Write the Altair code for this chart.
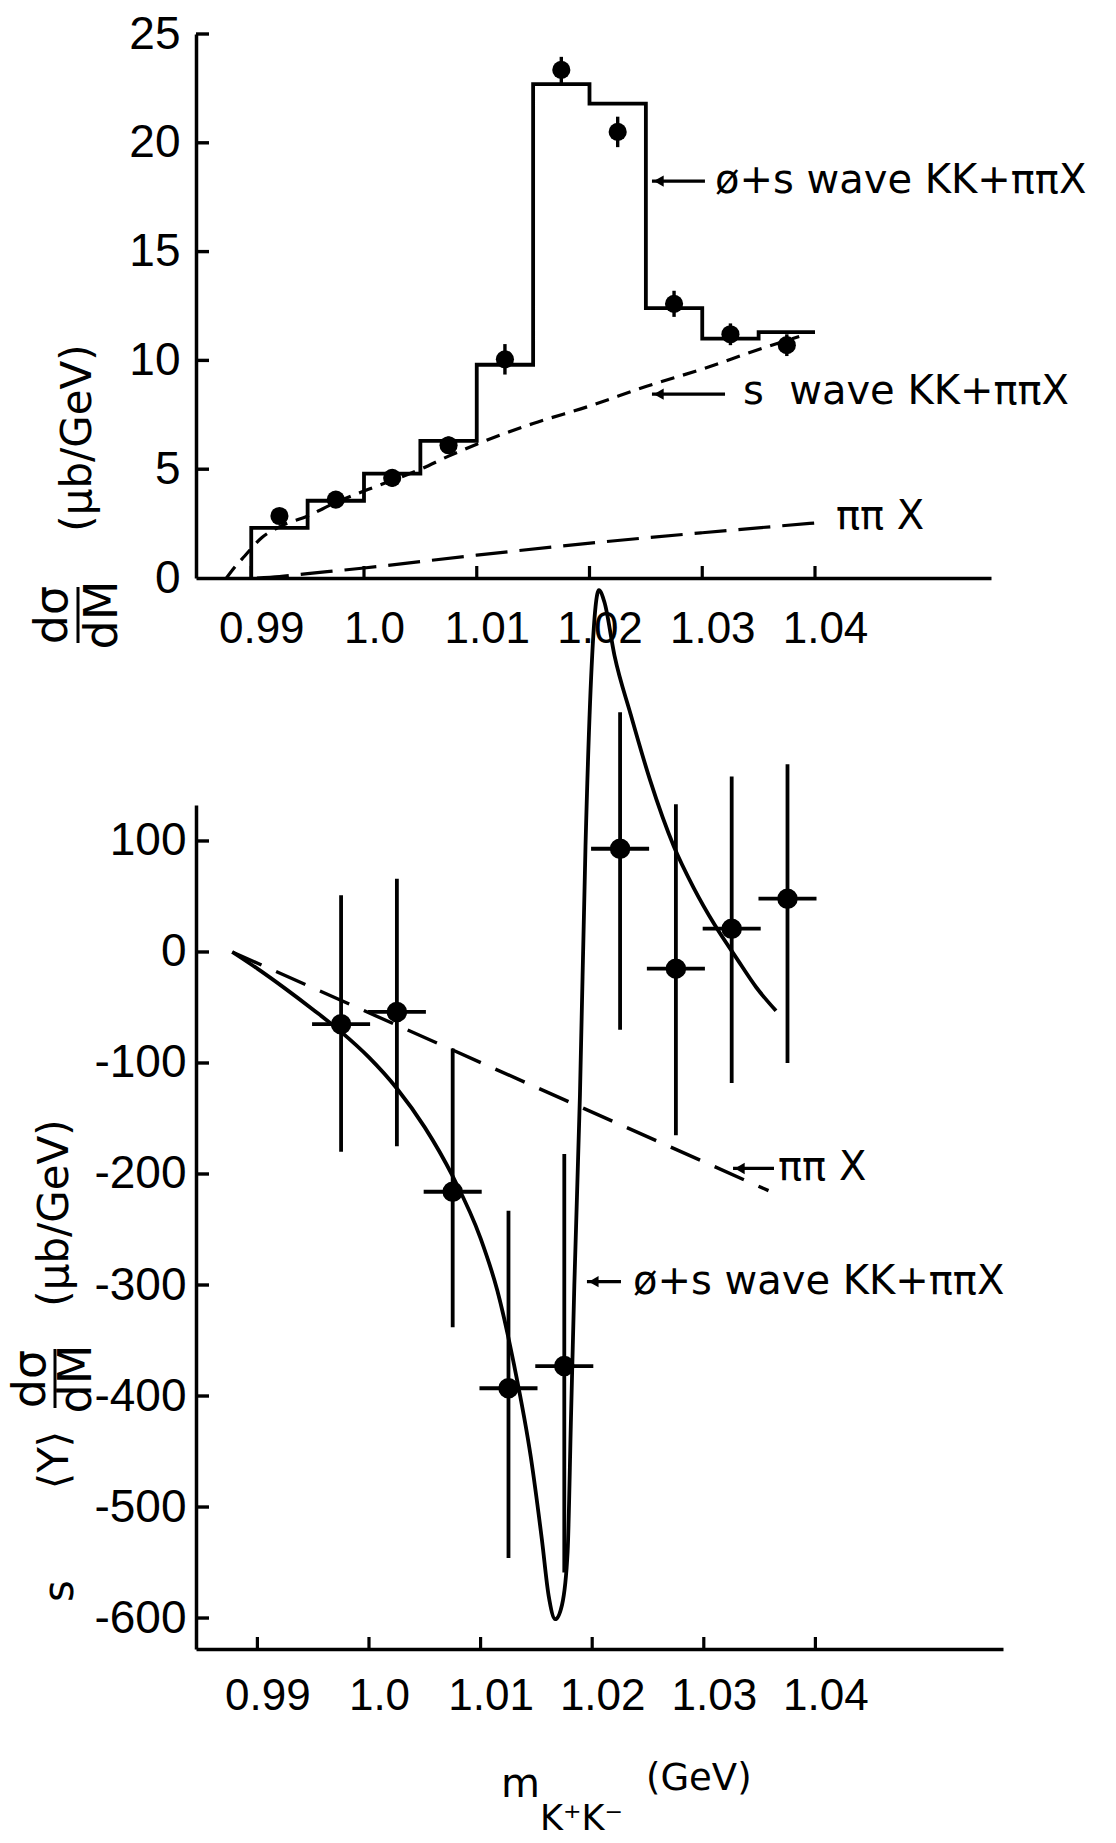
import altair as alt
import pandas as pd

# ---------------- upper panel data ----------------
hist_edges = [0.99, 0.995, 1.0, 1.005, 1.01, 1.015, 1.02, 1.025, 1.03, 1.035, 1.04]
hist_values = [2.3, 3.55, 4.8, 6.3, 9.8, 22.7, 21.8, 12.4, 11.0, 11.3]

top_mass = [0.9925, 0.9975, 1.0025, 1.0075, 1.0125, 1.0175, 1.0225, 1.0275, 1.0325, 1.0375]
top_xsec = [2.85, 3.6, 4.6, 6.1, 10.05, 23.35, 20.5, 12.6, 11.2, 10.7]
top_err = [0.3, 0.35, 0.4, 0.4, 0.7, 0.6, 0.7, 0.6, 0.5, 0.5]

swave_mass = [0.9878, 0.9887, 0.9894, 0.9909, 0.9925, 0.995, 0.9975, 1.0, 1.0026, 1.005,
              1.0075, 1.01, 1.015, 1.02, 1.025, 1.03, 1.035, 1.0386]
swave_xsec = [0.0, 0.6, 1.0, 1.84, 2.35, 2.85, 3.47, 4.0, 4.5, 5.0,
              5.6, 6.15, 7.1, 7.9, 8.8, 9.6, 10.5, 11.1]

pipi_top_mass = [0.9905, 0.9925, 0.995, 1.0, 1.01, 1.021, 1.03, 1.0405]
pipi_top_xsec = [0.0, 0.07, 0.2, 0.46, 1.05, 1.65, 2.08, 2.55]

top_y_ticks = [0, 5, 10, 15, 20, 25]
x_ticks = [0.99, 1.0, 1.01, 1.02, 1.03, 1.04]

top_labels = ["ø+s wave KK+ππX", "s\u00a0 wave KK+ππX", "ππ X"]
top_label_mass = [1.03113, 1.03361, 1.04186]
top_label_val = [18.24, 8.55, 2.8]
top_arrow_tip = [1.02554, 1.02554]
top_arrow_tail = [1.03024, 1.03202]
top_arrow_val = [18.24, 8.45]

# ---------------- lower panel data ----------------
bot_mass = [0.9975, 1.0025, 1.0075, 1.0125, 1.0175, 1.0225, 1.0275, 1.0325, 1.0375]
bot_val = [-65, -54, -216, -393, -373, 93, -15, 21, 48]
bot_hi = [51, 66, -87, -233, -182, 216, 133, 158, 169]
bot_lo = [-180, -175, -338, -546, -559, -70, -165, -118, -100]
bot_halfwidth = 0.0026

fit_mass = [0.98775, 0.9900, 0.9925, 0.9950, 0.9975, 1.0000, 1.0025, 1.0050, 1.0075,
            1.0100, 1.0115, 1.0130, 1.0145, 1.0155, 1.0161, 1.0167, 1.0173, 1.0178,
            1.0181, 1.0184, 1.0189, 1.0194, 1.0200, 1.0206, 1.0211, 1.0220, 1.02345,
            1.02518, 1.02732, 1.02908, 1.0310, 1.03296, 1.03471, 1.03647]
fit_val = [0, -15, -33, -52, -72, -95, -123, -158, -202,
           -258, -305, -372, -455, -530, -580, -601, -588, -540,
           -420, -300, -130, 95, 267, 326, 315, 267, 214,
           155, 95, 58, 24, -6, -32, -53]

pipi_bot_mass = [0.98775, 1.0358]
pipi_bot_val = [0, -215]

bot_y_ticks = [100, 0, -100, -200, -300, -400, -500, -600]

bot_labels = ["ππ X", "ø+s wave KK+ππX"]
bot_label_mass = [1.03665, 1.02366]
bot_label_val = [-195, -297]
bot_arrow_tip = [1.03262, 1.01953]
bot_arrow_tail = [1.03629, 1.02258]
bot_arrow_val = [-195, -297]

# ---------------- styling ----------------
FONT_NUM = "Liberation Sans"
FONT_TXT = "DejaVu Sans"
BLACK = "black"
TOP_W, TOP_H = 795, 544
BOT_W, BOT_H = 807, 844
HEAD_OFFSET = 0.0006
LW = 3.8

xs_top = alt.Scale(domain=[0.98510, 1.05561], nice=False, zero=False)
ys_top = alt.Scale(domain=[0, 25], nice=False, zero=False)
xs_bot = alt.Scale(domain=[0.98450, 1.05681], nice=False, zero=False)
ys_bot = alt.Scale(domain=[-627.9, 132.4], nice=False, zero=False)


def x_axis(pad):
    return alt.Axis(values=x_ticks, ticks=False, grid=False, domainWidth=3.5, domainColor=BLACK,
                    labelExpr="datum.value == 1 ? '1.0' : format(datum.value, '.2f')",
                    labelFont=FONT_NUM, labelFontSize=44, labelColor=BLACK, labelPadding=pad,
                    labelOffset=10, labelFlush=False, labelOverlap=False, title=None)


def y_axis(values, pad):
    return alt.Axis(values=values, ticks=False, grid=False, domainWidth=3.5, domainColor=BLACK,
                    labelExpr="toString(datum.value)",
                    labelFont=FONT_NUM, labelFontSize=46, labelColor=BLACK, labelPadding=pad,
                    labelFlush=False, labelOverlap=False, title=None)


AX_TOP_X = x_axis(29)
AX_TOP_Y = y_axis(top_y_ticks, 16)
AX_BOT_X = x_axis(25)
AX_BOT_Y = y_axis(bot_y_ticks, 10)


def tx(field):
    return alt.X(field, scale=xs_top, axis=AX_TOP_X)


def ty(field):
    return alt.Y(field, scale=ys_top, axis=AX_TOP_Y)


def bx(field):
    return alt.X(field, scale=xs_bot, axis=AX_BOT_X)


def by(field):
    return alt.Y(field, scale=ys_bot, axis=AX_BOT_Y)


def one_row():
    return pd.DataFrame({"a": [0]})


def free_text(txt, x, y, size, angle=None, align="center", baseline="middle"):
    kw = dict(text=txt, font=FONT_TXT, fontSize=size, color=BLACK, align=align, baseline=baseline)
    if angle is not None:
        kw["angle"] = angle
    return alt.Chart(one_row()).mark_text(**kw).encode(x=alt.value(x), y=alt.value(y))


def free_rule(x, y, y2):
    return alt.Chart(one_row()).mark_rule(color=BLACK, strokeWidth=3).encode(
        x=alt.value(x), y=alt.value(y), y2=alt.value(y2))


# ---------------- upper panel ----------------
hist_df = pd.DataFrame({
    "m": [hist_edges[0]] + hist_edges,
    "v": [0] + hist_values + [hist_values[-1]],
})
hist_df["i"] = range(len(hist_df))

top_pts = pd.DataFrame({"m": top_mass, "v": top_xsec, "e": top_err})
top_pts["lo"] = top_pts["v"] - top_pts["e"]
top_pts["hi"] = top_pts["v"] + top_pts["e"]

hist = alt.Chart(hist_df).mark_line(interpolate="step-after", color=BLACK, strokeWidth=LW).encode(
    x=tx("m:Q"), y=ty("v:Q"), order="i:Q")

swave = alt.Chart(pd.DataFrame({"m": swave_mass, "v": swave_xsec})).mark_line(
    color=BLACK, strokeWidth=3.2, strokeDash=[14, 9], interpolate="monotone").encode(
    x=tx("m:Q"), y=ty("v:Q"))

pipi_top = alt.Chart(pd.DataFrame({"m": pipi_top_mass, "v": pipi_top_xsec})).mark_line(
    color=BLACK, strokeWidth=3.2, strokeDash=[32, 12], interpolate="monotone").encode(
    x=tx("m:Q"), y=ty("v:Q"))

top_err_bars = alt.Chart(top_pts).mark_rule(color=BLACK, strokeWidth=3.4).encode(
    x=tx("m:Q"), y=ty("lo:Q"), y2="hi:Q")

top_dots = alt.Chart(top_pts).mark_circle(size=330, color=BLACK, opacity=1).encode(
    x=tx("m:Q"), y=ty("v:Q"))

top_yt = alt.Chart(pd.DataFrame({"v": top_y_ticks[1:]})).mark_rule(color=BLACK, strokeWidth=3.4).encode(
    y=ty("v:Q"), x=alt.value(0), x2=alt.value(13))
top_xt = alt.Chart(pd.DataFrame({"m": x_ticks})).mark_rule(color=BLACK, strokeWidth=3.2).encode(
    x=tx("m:Q"), y=alt.value(TOP_H), y2=alt.value(TOP_H - 12))

top_txt = alt.Chart(pd.DataFrame({"m": top_label_mass, "v": top_label_val, "t": top_labels})).mark_text(
    align="left", baseline="middle", font=FONT_TXT, fontSize=40, color=BLACK).encode(
    x=tx("m:Q"), y=ty("v:Q"), text="t:N")

top_arr_df = pd.DataFrame({"m": top_arrow_tip, "m2": top_arrow_tail, "v": top_arrow_val})
top_arr_df["h"] = top_arr_df["m"] + HEAD_OFFSET
top_arr = alt.Chart(top_arr_df).mark_rule(color=BLACK, strokeWidth=3.2).encode(
    x=tx("m:Q"), x2="m2:Q", y=ty("v:Q"))
top_head = alt.Chart(top_arr_df).mark_point(shape="triangle-left", filled=True, size=130,
                                            color=BLACK, opacity=1).encode(
    x=tx("h:Q"), y=ty("v:Q"))

top_title = [
    free_text("(μb/GeV)", -118, 404, 42, angle=270),
    free_text("dσ", -143, 581, 46, angle=270),
    free_text("dM", -93, 581, 46, angle=270),
    free_rule(-118, 553, 609),
]

top = alt.layer(hist, swave, pipi_top, top_err_bars, top_dots, top_yt, top_xt,
                top_txt, top_arr, top_head, *top_title).properties(width=TOP_W, height=TOP_H)

# ---------------- lower panel ----------------
bot_pts = pd.DataFrame({"m": bot_mass, "v": bot_val, "lo": bot_lo, "hi": bot_hi})
bot_pts["ml"] = bot_pts["m"] - bot_halfwidth
bot_pts["mh"] = bot_pts["m"] + bot_halfwidth

fit = alt.Chart(pd.DataFrame({"m": fit_mass, "v": fit_val})).mark_line(
    color=BLACK, strokeWidth=LW, interpolate="monotone").encode(
    x=bx("m:Q"), y=by("v:Q"))

pipi_bot = alt.Chart(pd.DataFrame({"m": pipi_bot_mass, "v": pipi_bot_val})).mark_line(
    color=BLACK, strokeWidth=3.4, strokeDash=[32, 16]).encode(
    x=bx("m:Q"), y=by("v:Q"))

bot_vbars = alt.Chart(bot_pts).mark_rule(color=BLACK, strokeWidth=LW).encode(
    x=bx("m:Q"), y=by("lo:Q"), y2="hi:Q")
bot_hbars = alt.Chart(bot_pts).mark_rule(color=BLACK, strokeWidth=LW).encode(
    x=bx("ml:Q"), x2="mh:Q", y=by("v:Q"))
bot_dots = alt.Chart(bot_pts).mark_circle(size=420, color=BLACK, opacity=1).encode(
    x=bx("m:Q"), y=by("v:Q"))

bot_yt = alt.Chart(pd.DataFrame({"v": bot_y_ticks})).mark_rule(color=BLACK, strokeWidth=3.4).encode(
    y=by("v:Q"), x=alt.value(0), x2=alt.value(13))
bot_xt = alt.Chart(pd.DataFrame({"m": x_ticks})).mark_rule(color=BLACK, strokeWidth=3.2).encode(
    x=bx("m:Q"), y=alt.value(BOT_H), y2=alt.value(BOT_H - 12))

bot_txt = alt.Chart(pd.DataFrame({"m": bot_label_mass, "v": bot_label_val, "t": bot_labels})).mark_text(
    align="left", baseline="middle", font=FONT_TXT, fontSize=40, color=BLACK).encode(
    x=bx("m:Q"), y=by("v:Q"), text="t:N")

bot_arr_df = pd.DataFrame({"m": bot_arrow_tip, "m2": bot_arrow_tail, "v": bot_arrow_val})
bot_arr_df["h"] = bot_arr_df["m"] + HEAD_OFFSET
bot_arr = alt.Chart(bot_arr_df).mark_rule(color=BLACK, strokeWidth=3.2).encode(
    x=bx("m:Q"), x2="m2:Q", y=by("v:Q"))
bot_head = alt.Chart(bot_arr_df).mark_point(shape="triangle-left", filled=True, size=130,
                                            color=BLACK, opacity=1).encode(
    x=bx("h:Q"), y=by("v:Q"))

bot_title = [
    free_text("(μb/GeV)", -141, 408, 42, angle=270),
    free_text("dσ", -165, 574, 46, angle=270),
    free_text("dM", -119, 574, 46, angle=270),
    free_rule(-141, 544, 603),
    free_text("⟨Y⟩", -141, 655, 42, angle=270),
    free_text("s", -136, 786, 42, angle=270),
    free_text("m", 305, 992, 40, align="left", baseline="alphabetic"),
    free_text("K⁺K⁻", 344, 1025, 35, align="left", baseline="alphabetic"),
    free_text("(GeV)", 450, 985, 37, align="left", baseline="alphabetic"),
]

bottom = alt.layer(fit, pipi_bot, bot_vbars, bot_hbars, bot_dots, bot_yt, bot_xt,
                   bot_txt, bot_arr, bot_head, *bot_title).properties(width=BOT_W, height=BOT_H)

chart = alt.vconcat(top, bottom, spacing=227, bounds="flush").properties(
    padding={"left": 8, "top": 11, "right": 5, "bottom": 5}, background="white"
).configure_view(stroke=None)

chart.save("out.html", embed_options={"renderer": "svg", "actions": False})
